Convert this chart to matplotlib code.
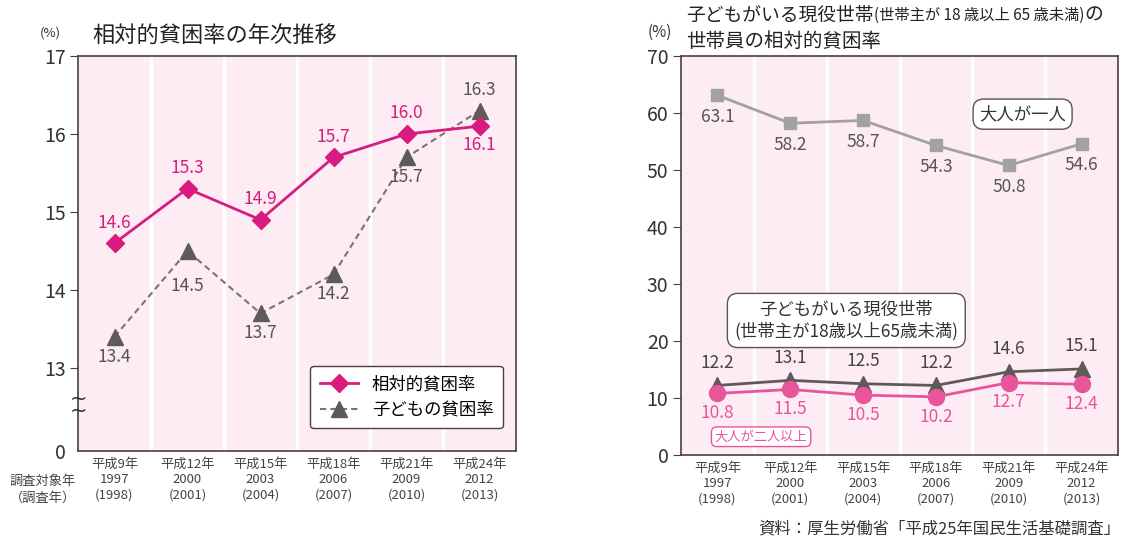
import matplotlib
matplotlib.use('Agg')
import matplotlib.pyplot as plt
import numpy as np

plt.rcParams['font.family'] = ['Noto Sans CJK JP', 'DejaVu Sans']

# data
years = ['平成9年\n1997\n(1998)', '平成12年\n2000\n(2001)', '平成15年\n2003\n(2004)',
         '平成18年\n2006\n(2007)', '平成21年\n2009\n(2010)', '平成24年\n2012\n(2013)']
relative = [14.6, 15.3, 14.9, 15.7, 16.0, 16.1]
child = [13.4, 14.5, 13.7, 14.2, 15.7, 16.3]
one_adult = [63.1, 58.2, 58.7, 54.3, 50.8, 54.6]
households = [12.2, 13.1, 12.5, 12.2, 14.6, 15.1]
two_adults = [10.8, 11.5, 10.5, 10.2, 12.7, 12.4]

BG = '#fdecf3'
MAG = '#d81b7f'
PINK = '#e8559a'
DGRAY = '#5e5a5a'
LGRAY = '#a2a2a2'
SPINE = '#4a3f3f'
TXT = '#333333'

fig = plt.figure(figsize=(11.26, 5.41), dpi=100)
x = np.arange(len(years))

# ---------- left chart ----------
ax = fig.add_axes([78/1126, 1-451/541, 438/1126, 395/541])
ybot = 13 - 83/78  # position of "0" after axis break
ax.set_xlim(-0.5, 5.5)
ax.set_ylim(ybot, 17)
ax.set_facecolor(BG)
for b in np.arange(0.5, 5.5, 1):
    ax.axvline(b, color='white', lw=2.5, zorder=1)
ax.plot(x, child, ls=(0, (3, 2)), color='#7a7474', lw=1.5, marker='^', ms=11,
        mfc=DGRAY, mec=DGRAY, zorder=3, label='子どもの貧困率')
ax.plot(x, relative, color=MAG, lw=2, marker='D', ms=9, mfc=MAG, mec=MAG,
        zorder=4, label='相対的貧困率')
for i in range(len(x)):
    if i == 5:
        ax.text(x[i], relative[i] - 0.13, f'{relative[i]:.1f}', color=MAG, fontsize=12.5,
                ha='center', va='top')
        ax.text(x[i], child[i] + 0.15, f'{child[i]:.1f}', color='#555', fontsize=12.5,
                ha='center', va='bottom')
    else:
        ax.text(x[i], relative[i] + 0.15, f'{relative[i]:.1f}', color=MAG, fontsize=12.5,
                ha='center', va='bottom')
        off = 0.33 if i == 1 else 0.14
        ax.text(x[i], child[i] - off, f'{child[i]:.1f}', color='#555', fontsize=12.5,
                ha='center', va='top')
ax.set_yticks([ybot, 13, 14, 15, 16, 17])
ax.set_yticklabels(['0', '13', '14', '15', '16', '17'])
ax.set_xticks(x)
ax.set_xticklabels(years, fontsize=9.5, color='#444', linespacing=1.25)
ax.tick_params(axis='x', length=0, pad=5)
ax.tick_params(axis='y', direction='out', length=6, color=SPINE, labelsize=14,
               labelcolor=TXT, pad=3)
ax.yaxis.get_major_ticks()[0].tick1line.set_visible(False)
for s in ax.spines.values():
    s.set_color(SPINE)
    s.set_linewidth(1.2)
ax.text(0.0, 0.117, '~\n~', transform=ax.transAxes, fontsize=15, color=TXT,
        ha='center', va='center', linespacing=0.5, family='DejaVu Sans')
h, l = ax.get_legend_handles_labels()
leg = ax.legend(h[::-1], l[::-1], loc='lower right', bbox_to_anchor=(0.99, 0.035),
                fontsize=12.5, frameon=True, fancybox=True, edgecolor=SPINE,
                facecolor='white', framealpha=1, handlelength=2.2, borderpad=0.55,
                labelspacing=0.45)
leg.get_frame().set_linewidth(1.0)
fig.text(40/1126, 1-33/541, '(%)', fontsize=9.5, color=TXT, va='center')
fig.text(92/1126, 1-36/541, '相対的貧困率の年次推移', fontsize=16, color='#222', va='center')
fig.text(76/1126, 1-490/541, '調査対象年\n（調査年）', fontsize=9.5, color='#444',
         va='center', ha='right', linespacing=1.4)

# ---------- right chart ----------
ax2 = fig.add_axes([681/1126, 1-455/541, 437/1126, 399/541])
ax2.set_xlim(-0.5, 5.5)
ax2.set_ylim(0, 70)
ax2.set_facecolor(BG)
for b in np.arange(0.5, 5.5, 1):
    ax2.axvline(b, color='white', lw=2.5, zorder=1)
ax2.plot(x, one_adult, color=LGRAY, lw=2, marker='s', ms=9, mfc=LGRAY, mec=LGRAY, zorder=3)
ax2.plot(x, households, color=DGRAY, lw=2, marker='^', ms=12, mfc=DGRAY, mec=DGRAY, zorder=3)
ax2.plot(x, two_adults, color=PINK, lw=2, marker='o', ms=11.5, mfc=PINK, mec=PINK, zorder=4)
for i in range(len(x)):
    ax2.text(x[i], one_adult[i] - 2.2, f'{one_adult[i]:.1f}', color='#555', fontsize=12.5,
             ha='center', va='top')
    ax2.text(x[i], households[i] + 2.4, f'{households[i]:.1f}', color='#444', fontsize=12.5,
             ha='center', va='bottom')
    ax2.text(x[i], two_adults[i] - 1.9, f'{two_adults[i]:.1f}', color=PINK, fontsize=12.5,
             ha='center', va='top')
ax2.set_yticks(range(0, 71, 10))
ax2.set_xticks(x)
ax2.set_xticklabels(years, fontsize=9.5, color='#444', linespacing=1.25)
ax2.tick_params(axis='x', length=0, pad=5)
ax2.tick_params(axis='y', direction='out', length=6, color=SPINE, labelsize=14,
                labelcolor=TXT, pad=3)
for s in ax2.spines.values():
    s.set_color(SPINE)
    s.set_linewidth(1.2)
ax2.text(4.19, 59.8, '大人が一人', fontsize=12.5, color='#333', ha='center', va='center',
         bbox=dict(boxstyle='round,pad=0.35,rounding_size=0.6', fc='white', ec='#555', lw=1))
ax2.text(1.77, 23.6, '子どもがいる現役世帯\n(世帯主が18歳以上65歳未満)', fontsize=12.5,
         color='#333', ha='center', va='center', linespacing=1.25,
         bbox=dict(boxstyle='round,pad=0.4,rounding_size=0.6', fc='white', ec='#555', lw=1))
ax2.text(0.6, 3.2, '大人が二人以上', fontsize=9.5, color=PINK, ha='center', va='center',
         bbox=dict(boxstyle='round,pad=0.25,rounding_size=0.4', fc='white', ec=PINK, lw=1))
fig.text(648/1126, 1-32/541, '(%)', fontsize=11, color=TXT, va='center')

# two-line title, first line mixes sizes
fig.canvas.draw()
r = fig.canvas.get_renderer()
xpos = 686
for s, fs in [('子どもがいる現役世帯', 13.5), ('(世帯主が 18 歳以上 65 歳未満)', 11), ('の', 13.5)]:
    t = fig.text(xpos/1126, 1-15/541, s, fontsize=fs, color='#222', va='center')
    xpos += t.get_window_extent(r).width
fig.text(686/1126, 1-41/541, '世帯員の相対的貧困率', fontsize=14, color='#222', va='center')
fig.text(1120/1126, 1-529/541, '資料：厚生労働省「平成25年国民生活基礎調査」', fontsize=11.8,
         color='#333', ha='right', va='center')

fig.savefig('out.png', dpi=100)
